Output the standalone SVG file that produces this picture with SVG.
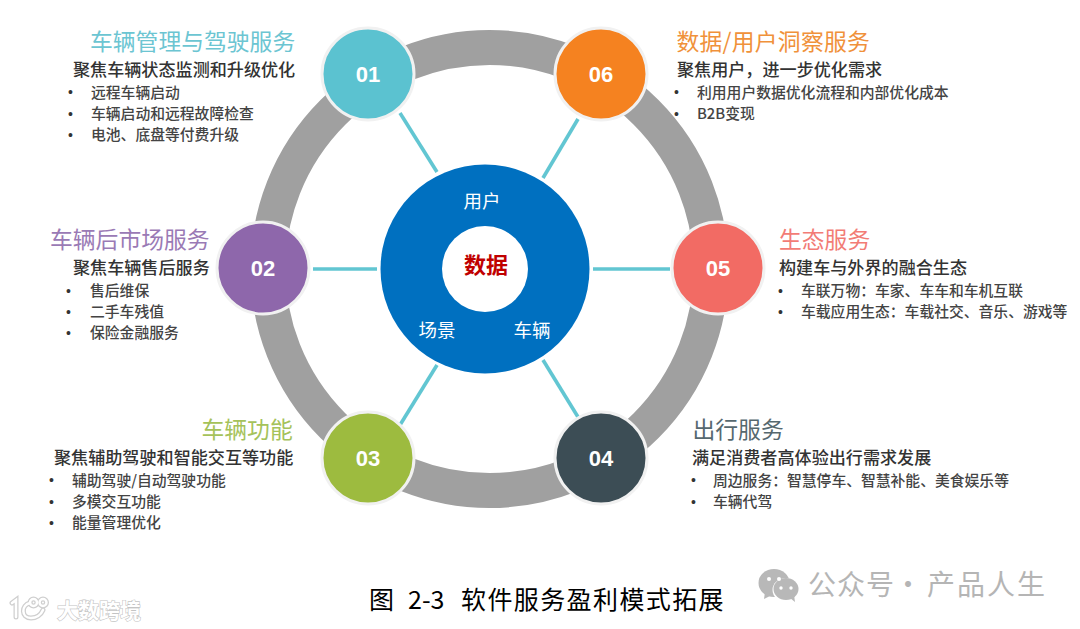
<svg xmlns="http://www.w3.org/2000/svg" width="1080" height="629" viewBox="0 0 1080 629">
<style>
text{font-family:"Noto Sans CJK SC","Liberation Sans",sans-serif}
.t{font-size:22.8px}
.s{font-size:17.1px;fill:#333;font-weight:500}
.l{font-size:14.8px;fill:#444;font-weight:500}
.b{font-size:14px;fill:#333;font-family:"Liberation Sans",sans-serif}
.n{font-family:"Liberation Sans",sans-serif;font-size:22px;font-weight:700;fill:#fff;text-anchor:middle}
.c{stroke:#f1f1f1;stroke-width:3}
.sp{stroke:#62c6d2;stroke-width:3.6;fill:none}
.cw{font-size:18.5px;fill:#fff;text-anchor:middle}
.wm{fill:#b8b8b8}
</style>
<rect width="1080" height="629" fill="#fff"/>
<circle id="ring" cx="489.500" cy="269" r="221.500" fill="none" stroke="#a0a0a0" stroke-width="35"/>
<g id="connectors">
<path class="sp" d="M400 113L437 172"/>
<path class="sp" d="M578 119L543 178"/>
<path class="sp" d="M313 269H377"/>
<path class="sp" d="M593 269H670"/>
<path class="sp" d="M437 365L400 425"/>
<path class="sp" d="M543 360L578 417"/>
</g>
<g id="center">
<circle cx="485" cy="269" r="104.500" fill="#0070c0"/>
<circle cx="485" cy="269" r="43" fill="#fff"/>
<text class="cw" x="482" y="208">用户</text>
<text class="cw" x="437" y="337">场景</text>
<text class="cw" x="532" y="337">车辆</text>
<text x="486" y="273" font-size="22" font-weight="700" fill="#c00000" text-anchor="middle">数据</text>
</g>
<g id="node01">
<circle class="c" cx="368" cy="74" r="46" fill="#5bc2d0"/>
<text class="n" x="368" y="82">01</text>
<text class="t" x="90" y="50" fill="#6cc5d2">车辆管理与驾驶服务</text>
<text class="s" x="73" y="76">聚焦车辆状态监测和升级优化</text>
<text class="b" x="68" y="97">•</text><text class="l" x="91" y="97.500">远程车辆启动</text>
<text class="b" x="68" y="119">•</text><text class="l" x="91" y="119">车辆启动和远程故障检查</text>
<text class="b" x="68" y="140">•</text><text class="l" x="91" y="140">电池、底盘等付费升级</text>
</g>
<g id="node02">
<circle class="c" cx="263" cy="268" r="46" fill="#8e67ab"/>
<text class="n" x="263" y="276">02</text>
<text class="t" x="50" y="248" fill="#9a7ab5">车辆后市场服务</text>
<text class="s" x="73" y="274">聚焦车辆售后服务</text>
<text class="b" x="66" y="296">•</text><text class="l" x="90" y="296">售后维保</text>
<text class="b" x="66" y="317">•</text><text class="l" x="90" y="317">二手车残值</text>
<text class="b" x="66" y="338">•</text><text class="l" x="90" y="338">保险金融服务</text>
</g>
<g id="node03">
<circle class="c" cx="368" cy="458" r="46" fill="#9dbb3f"/>
<text class="n" x="368" y="466">03</text>
<text class="t" x="201.500" y="438" fill="#a5c25a">车辆功能</text>
<text class="s" x="54" y="464">聚焦辅助驾驶和智能交互等功能</text>
<text class="b" x="49" y="485">•</text><text class="l" x="72" y="486">辅助驾驶/自动驾驶功能</text>
<text class="b" x="49" y="507">•</text><text class="l" x="72" y="507">多模交互功能</text>
<text class="b" x="49" y="528">•</text><text class="l" x="72" y="528">能量管理优化</text>
</g>
<g id="node04">
<circle class="c" cx="601" cy="458" r="46" fill="#3c4d55"/>
<text class="n" x="601" y="466">04</text>
<text class="t" x="692.500" y="438" fill="#56686f">出行服务</text>
<text class="s" x="692" y="464">满足消费者高体验出行需求发展</text>
<text class="b" x="691" y="485">•</text><text class="l" x="713" y="486">周边服务：智慧停车、智慧补能、美食娱乐等</text>
<text class="b" x="691" y="507">•</text><text class="l" x="713" y="507">车辆代驾</text>
</g>
<g id="node05">
<circle class="c" cx="718" cy="268" r="46" fill="#f26b64"/>
<text class="n" x="718" y="276">05</text>
<text class="t" x="779" y="248" fill="#f27c76">生态服务</text>
<text class="s" x="779" y="274">构建车与外界的融合生态</text>
<text class="b" x="778" y="296">•</text><text class="l" x="801" y="296">车联万物：车家、车车和车机互联</text>
<text class="b" x="778" y="317">•</text><text class="l" x="801" y="317">车载应用生态：车载社交、音乐、游戏等</text>
</g>
<g id="node06">
<circle class="c" cx="601" cy="74" r="46" fill="#f58220"/>
<text class="n" x="601" y="82">06</text>
<text class="t" x="676.500" y="50" fill="#f0913a" letter-spacing="0.250">数据/用户洞察服务</text>
<text class="s" x="677" y="76">聚焦用户，进一步优化需求</text>
<text class="b" x="674" y="97">•</text><text class="l" x="697" y="97.500">利用用户数据优化流程和内部优化成本</text>
<text class="b" x="674" y="119">•</text><text class="l" x="697" y="119">B2B变现</text>
</g>
<g id="caption">
<text x="369" y="609" font-size="25" fill="#000">图</text>
<text x="408" y="609" font-size="25" fill="#000" font-family="Liberation Sans,sans-serif">2-3</text>
<text x="461" y="609" font-size="25" letter-spacing="1.400" fill="#000">软件服务盈利模式拓展</text>
</g>
<g id="watermark-wechat">
<ellipse class="wm" cx="774" cy="583" rx="15.500" ry="14"/>
<path class="wm" d="M765 592L764 599L772 595Z"/>
<ellipse cx="786" cy="590" rx="13.500" ry="12" fill="#fff"/>
<ellipse class="wm" cx="786" cy="589" rx="12.500" ry="11"/>
<path class="wm" d="M790 598L795 602L794 595Z"/>
<circle cx="769" cy="579" r="2" fill="#fff"/><circle cx="779" cy="579" r="2" fill="#fff"/>
<circle cx="781" cy="588" r="1.700" fill="#fff"/><circle cx="791" cy="588" r="1.700" fill="#fff"/>
<text x="808" y="595" font-size="28" fill="#b5b5b5" letter-spacing="1">公众号</text>
<text x="894" y="595" font-size="28" fill="#b5b5b5">·</text>
<text x="927" y="595" font-size="28" fill="#b5b5b5" letter-spacing="2">产品人生</text>
</g>
<g id="watermark-logo" fill="none" stroke-linecap="round">
<g stroke="#cfcfcf" stroke-width="5">
<path d="M12 603L16 600V617"/><path d="M30 603C21 605 21 618 31 618C36 618 41 615 43 610"/><circle cx="33.500" cy="602.500" r="3.500"/><circle cx="43" cy="602.500" r="3.500"/>
</g>
<g stroke="#fff" stroke-width="2.500">
<path d="M12 603L16 600V617"/><path d="M30 603C21 605 21 618 31 618C36 618 41 615 43 610"/><circle cx="33.500" cy="602.500" r="3.500"/><circle cx="43" cy="602.500" r="3.500"/>
</g>
<text x="57" y="618" font-size="21" fill="#fff" stroke="#c4c4c4" stroke-width="1.200" paint-order="stroke" font-weight="700">大数跨境</text>
</g>
</svg>
